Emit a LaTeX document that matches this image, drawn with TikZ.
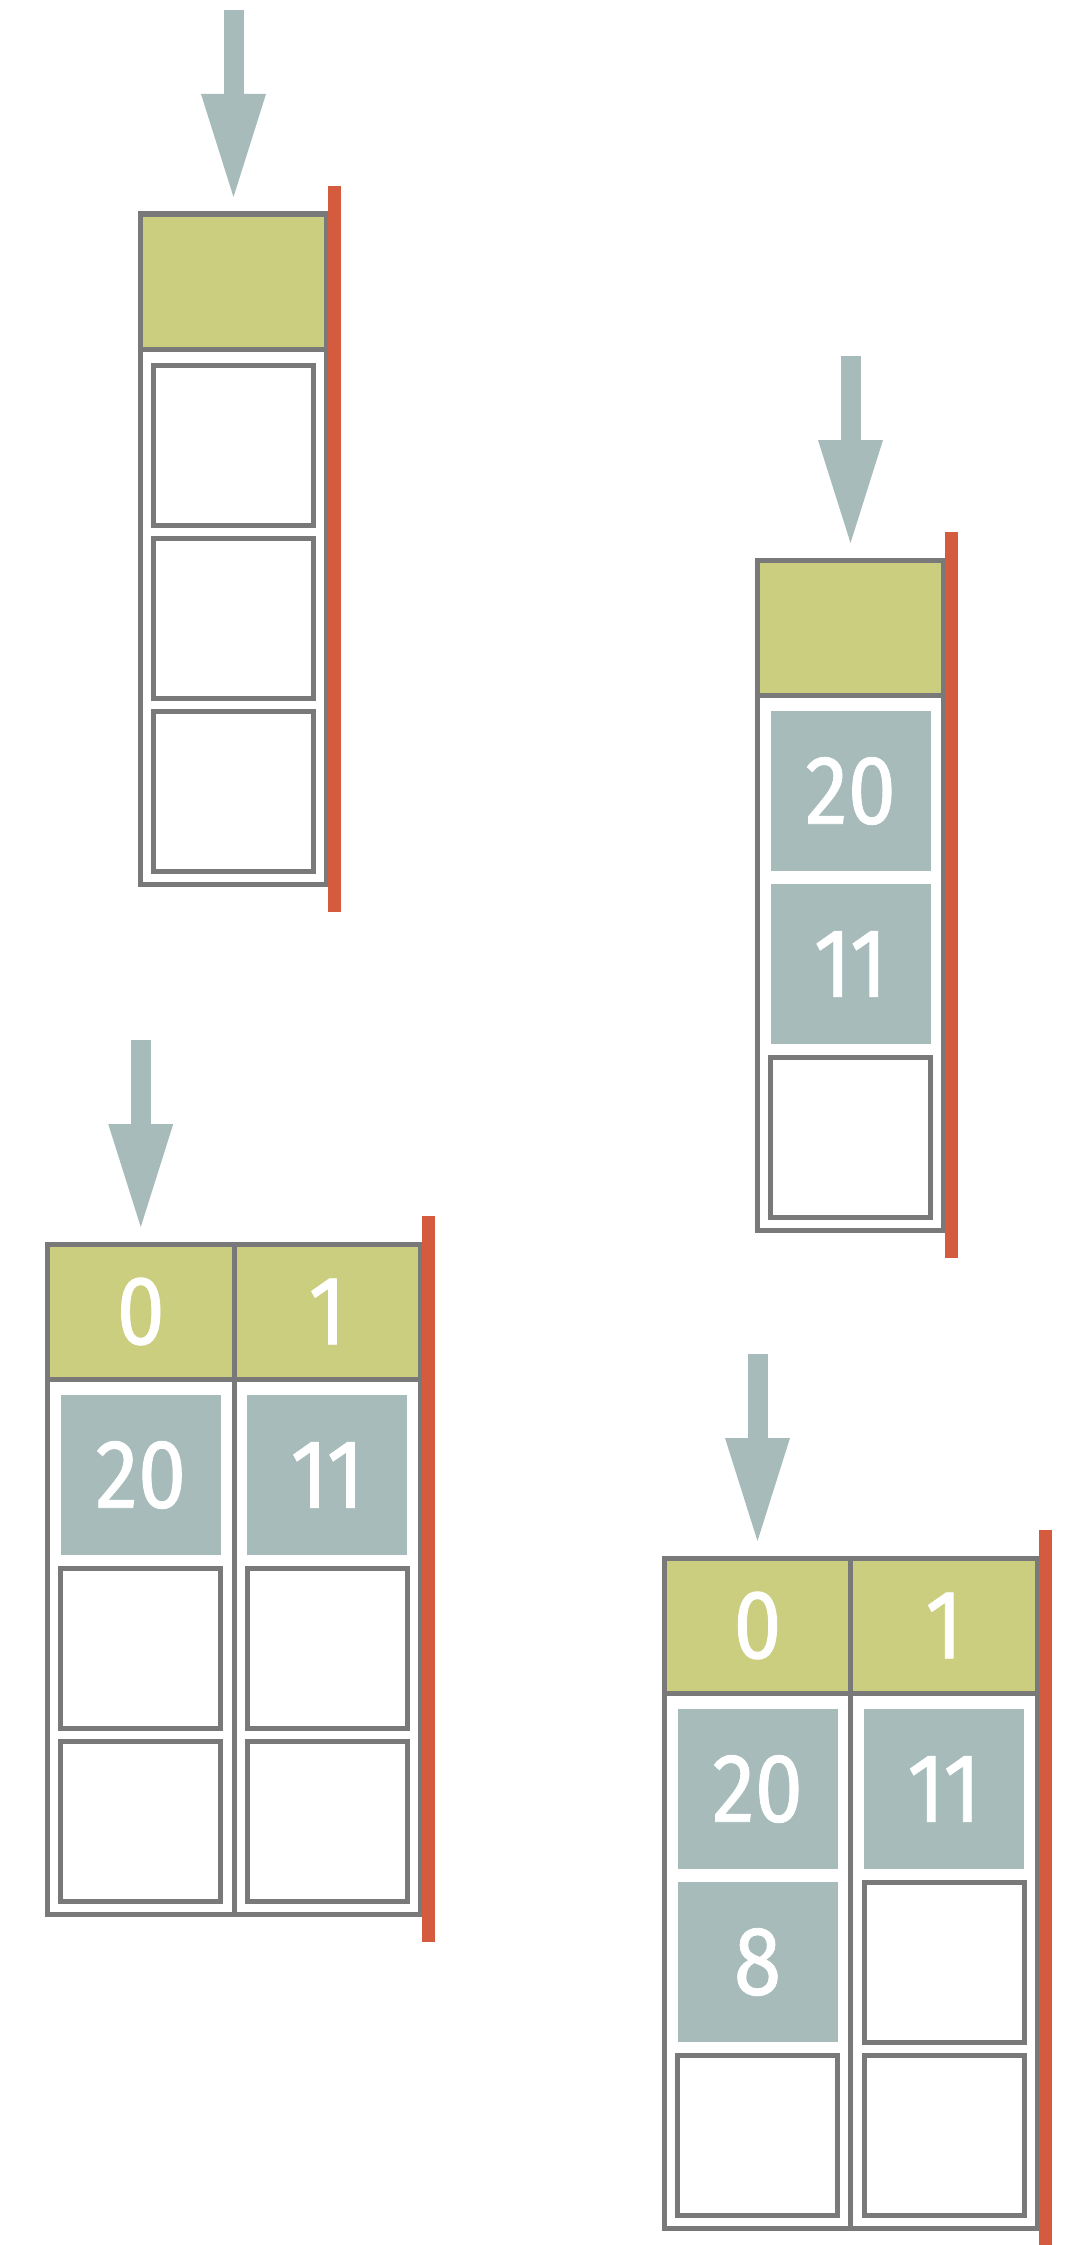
\documentclass[tikz,border=0pt]{standalone}
\usepackage{fontspec}
\newfontfamily\digitfont[FakeStretch=0.88,FakeBold=0.8]{Fira Sans}
\usetikzlibrary{arrows.meta,positioning,calc}
\definecolor{framegray}{RGB}{120,121,120}
\definecolor{headgreen}{RGB}{203,206,126}
\definecolor{slotblue}{RGB}{167,187,187}
\definecolor{stopred}{RGB}{212,91,62}

\begin{document}
\begin{tikzpicture}[x=1pt,y=1pt,
  every node/.style={inner sep=0pt,outer sep=0pt,text=white,font=\digitfont\fontsize{98}{98}\selectfont},
  head/.style={draw=framegray,line width=5pt,fill=headgreen,minimum width=186.5pt,minimum height=135pt},
  stack/.style={draw=framegray,line width=5pt,minimum width=186.5pt,minimum height=535pt},
  slot/.style={draw=framegray,line width=5pt,minimum size=160pt},
  full/.style={fill=slotblue,minimum size=160pt},
  stopbar/.style={draw=stopred,line width=13.4pt},
  push/.style={draw=slotblue,line width=20pt,-{Triangle[length=103pt,width=65pt,line width=0pt]}}]
\useasboundingbox (0,0) rectangle (1066,-2245);

% empty stack
\node[head] (head1) at (233.5,-281.5) {};
\node[stack,below=0pt of head1] (col1) {};
\node[slot,below=16pt of col1.north] (cell1a) {};
\node[slot,below=13pt of cell1a] (cell1b) {};
\node[slot,below=13pt of cell1b] (cell1c) {};
\draw[stopbar] ($(head1.north east)+(8,28)$) -- ($(col1.south east)+(8,-28)$);
\coordinate (in1) at ($(head1.north)+(0,204)$);
\draw[push] (in1) -- ($(head1.north)+(0,17)$);

% stack with 20 and 11
\node[head] (head2) at (850.5,-627.5) {};
\node[stack,below=0pt of head2] (col2) {};
\node[full,below=16pt of col2.north] (cell2a) {20};
\node[full,below=13pt of cell2a] (cell2b) {11};
\node[slot,below=13pt of cell2b] (cell2c) {};
\draw[stopbar] ($(head2.north east)+(8,28)$) -- ($(col2.south east)+(8,-28)$);
\coordinate (in2) at ($(head2.north)+(0,204)$);
\draw[push] (in2) -- ($(head2.north)+(0,17)$);

% two stacks, one value each
\node[head] (head3l) at (140.75,-1311.5) {0};
\node[head,right=0pt of head3l] (head3r) {1};
\node[stack,below=0pt of head3l] (col3l) {};
\node[stack,below=0pt of head3r] (col3r) {};
\node[full,below=16pt of col3l.north] (cell3la) {20};
\node[slot,below=13pt of cell3la] (cell3lb) {};
\node[slot,below=13pt of cell3lb] (cell3lc) {};
\node[full,below=16pt of col3r.north] (cell3ra) {11};
\node[slot,below=13pt of cell3ra] (cell3rb) {};
\node[slot,below=13pt of cell3rb] (cell3rc) {};
\draw[stopbar] ($(head3r.north east)+(8,28)$) -- ($(col3r.south east)+(8,-28)$);
\coordinate (in3) at ($(head3l.north)+(0,204)$);
\draw[push] (in3) -- ($(head3l.north)+(0,17)$);

% two stacks, 8 pushed on stack 0
\node[head] (head4l) at (757.5,-1625.5) {0};
\node[head,right=0pt of head4l] (head4r) {1};
\node[stack,below=0pt of head4l] (col4l) {};
\node[stack,below=0pt of head4r] (col4r) {};
\node[full,below=16pt of col4l.north] (cell4la) {20};
\node[full,below=13pt of cell4la] (cell4lb) {8};
\node[slot,below=13pt of cell4lb] (cell4lc) {};
\node[full,below=16pt of col4r.north] (cell4ra) {11};
\node[slot,below=13pt of cell4ra] (cell4rb) {};
\node[slot,below=13pt of cell4rb] (cell4rc) {};
\draw[stopbar] ($(head4r.north east)+(8,28)$) -- ($(col4r.south east)+(8,-28)$);
\coordinate (in4) at ($(head4l.north)+(0,204)$);
\draw[push] (in4) -- ($(head4l.north)+(0,17)$);
\end{tikzpicture}
\end{document}
